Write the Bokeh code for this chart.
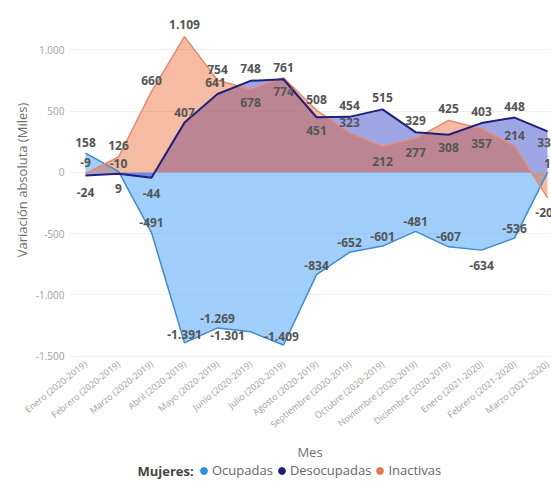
from bokeh.plotting import figure
from bokeh.layouts import column
from bokeh.models import Range1d, FixedTicker, Legend, LegendItem, Label, ColumnDataSource
from bokeh.embed import file_html
from bokeh.resources import INLINE
from bokeh.core.properties import value

meses = ["Enero (2020-2019)", "Febrero (2020-2019)", "Marzo (2020-2019)", "Abril (2020-2019)",
         "Mayo (2020-2019)", "Junio (2020-2019)", "Julio (2020-2019)", "Agosto (2020-2019)",
         "Septiembre (2020-2019)", "Octubre (2020-2019)", "Noviembre (2020-2019)",
         "Diciembre (2020-2019)", "Enero (2021-2020)", "Febrero (2021-2020)", "Marzo (2021-2020)"]
ocupadas = [158, 9, -491, -1391, -1269, -1301, -1409, -834, -652, -601, -481, -607, -634, -536, 1]
desocupadas = [-24, -10, -44, 407, 641, 748, 761, 451, 454, 515, 329, 308, 403, 448, 336]
inactivas = [-9, 126, 660, 1109, 754, 678, 774, 508, 323, 212, 277, 425, 357, 214, -205]
y_ticks = [-1500, -1000, -500, 0, 500, 1000]
series_names = ["Ocupadas", "Desocupadas", "Inactivas"]

# label placement (pixel offsets from each point)
ocu_dx = [0, 0, 0, 0, 0, -23, -2, 0, 0, 0, 0, 0, 0, 0, 0]
ocu_dy = [-11, 17, -10, -8, -9, 4, -9, -9, -10, -10, -10, -10, 15, -10, -9]
des_dx = [0, 0, 0, 0, -2, 0, 0, 0, 0, 0, 0, 0, 0, 0, 0]
des_dy = [17, -10, 16, -10, -11, -12, -12, 13, -11, -12, -12, 13, -12, -11, 11]
ina_dx = [0] * 15
ina_dy = [-11, -12, -11, -12, -11, 13, 14, -11, -10, 15, 14, -12, 15, -11, 15]


def fmt(v):
    return f"{v:,}".replace(",", ".")


xs = list(range(len(meses)))
FONT = "Open Sans"

p = figure(width=551, height=463,
           x_range=Range1d(-0.515, 14.12), y_range=Range1d(-1527, 1404),
           min_border_left=68, min_border_right=0, min_border_top=0, min_border_bottom=104,
           output_backend="svg", toolbar_location=None)
p.outline_line_color = None
p.background_fill_color = "white"
p.border_fill_color = "white"

C_OCU_FILL, C_OCU_LINE = "#3fa0f5", "#3d8bd4"
C_DES_FILL, C_DES_LINE = "#1a2ac0", "#211f7c"
C_INA_FILL, C_INA_LINE = "#e6551a", "#e9896a"

p.varea(x=xs, y1=[0] * len(xs), y2=ocupadas, fill_color=C_OCU_FILL, fill_alpha=0.5)
p.varea(x=xs, y1=[0] * len(xs), y2=desocupadas, fill_color=C_DES_FILL, fill_alpha=0.42)
p.varea(x=xs, y1=[0] * len(xs), y2=inactivas, fill_color=C_INA_FILL, fill_alpha=0.4)
p.line(xs, ocupadas, line_color=C_OCU_LINE, line_width=1.5)
p.line(xs, inactivas, line_color=C_INA_LINE, line_width=1.5)
p.line(xs, desocupadas, line_color=C_DES_LINE, line_width=2)

for vals, dx, dy in ((ocupadas, ocu_dx, ocu_dy), (desocupadas, des_dx, des_dy), (inactivas, ina_dx, ina_dy)):
    src = ColumnDataSource(dict(x=xs, y=vals, lab=[fmt(v) for v in vals], dx=dx, dy=dy))
    p.text(x="x", y="y", text="lab", x_offset="dx", y_offset="dy", source=src,
           text_font=value(FONT), text_font_style="bold", text_font_size="12px",
           text_color="#555555", text_align="center", text_baseline="middle")

# axes
p.yaxis.ticker = FixedTicker(ticks=y_ticks)
p.yaxis.major_label_overrides = {t: fmt(t) for t in y_ticks}
p.yaxis.axis_label = "Variación absoluta (Miles)"
p.xaxis.ticker = FixedTicker(ticks=xs)
p.xaxis.major_label_overrides = {i: m for i, m in enumerate(meses)}
p.xaxis.major_label_orientation = 0.68
p.xaxis.axis_label = "Mes"
for ax in (p.xaxis[0], p.yaxis[0]):
    ax.axis_line_color = None
    ax.major_tick_line_color = None
    ax.minor_tick_line_color = None
    ax.major_tick_out = 0
    ax.major_tick_in = 0
    ax.minor_tick_out = 0
    ax.minor_tick_in = 0
    ax.major_label_text_font = FONT
    ax.major_label_text_color = "#a0a0a0"
    ax.axis_label_text_font = FONT
    ax.axis_label_text_font_style = "normal"
    ax.axis_label_text_color = "#707070"
    ax.axis_label_text_font_size = "13px"
p.yaxis.major_label_text_font_size = "10px"
p.yaxis.major_label_standoff = 4
p.yaxis.axis_label_standoff = 2
p.xaxis.major_label_text_font_size = "9px"
p.xaxis.major_label_standoff = 3
p.xaxis.axis_label_standoff = 4

p.ygrid.grid_line_color = "#f0f0f0"
p.xgrid.grid_line_color = None

# legend strip below the chart (its frame is aligned with the chart frame)
lg = figure(width=551, height=25, x_range=Range1d(0, 483), y_range=Range1d(0, 25),
            min_border_left=0, min_border_right=0, min_border_top=0, min_border_bottom=0,
            output_backend="svg", toolbar_location=None)
lg.axis.visible = False
lg.grid.visible = False
lg.outline_line_color = None
lg.border_fill_color = "white"
dot_colors = ["#2e8fe0", "#1f1c80", "#e8794f"]
rends = [lg.scatter(x=[-100], y=[-100], marker="circle", size=7, color=c) for c in dot_colors]
legend = Legend(items=[LegendItem(label=n, renderers=[r]) for n, r in zip(series_names, rends)],
                orientation="horizontal", location=(127, 9),
                label_text_font=FONT, label_text_font_size="13px", label_text_color="#666666",
                glyph_width=17, glyph_height=17, label_standoff=0, spacing=0,
                padding=0, margin=0, border_line_alpha=0, background_fill_alpha=0)
lg.add_layout(legend)
lg.add_layout(Label(x=69, y=18, x_units="screen", y_units="screen", text="Mujeres:",
                    text_font=FONT, text_font_style="bold", text_font_size="13px",
                    text_color="#444444", text_baseline="middle"))

layout = column(p, lg, spacing=0)
open("out.html", "w").write(file_html(layout, INLINE))
